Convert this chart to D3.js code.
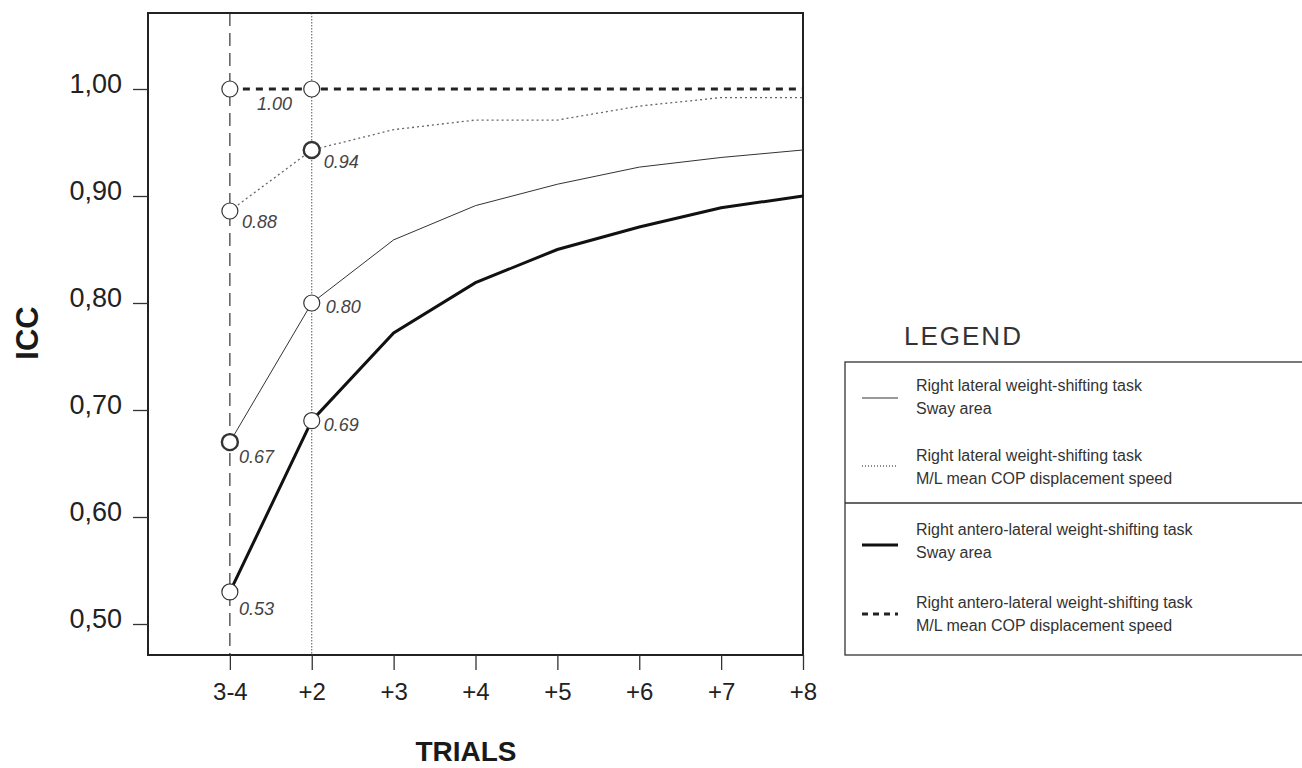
<!DOCTYPE html>
<html>
<head>
<meta charset="utf-8">
<script src="https://cdn.jsdelivr.net/npm/d3@7"></script>
<style>
  body { margin: 0; background: #fff; }
  svg { display: block; font-family: "Liberation Sans", Arial, sans-serif; }
</style>
</head>
<body>
<div id="chart"></div>
<script>
const trials = ["3-4", "+2", "+3", "+4", "+5", "+6", "+7", "+8"];
const yTicks = [0.5, 0.6, 0.7, 0.8, 0.9, 1.0];

const latSway  = [0.67, 0.80, 0.859, 0.891, 0.911, 0.927, 0.936, 0.943];
const latSpeed = [0.886, 0.943, 0.962, 0.971, 0.971, 0.984, 0.992, 0.992];
const antSway  = [0.53, 0.69, 0.772, 0.819, 0.850, 0.871, 0.889, 0.900];
const antSpeed = [1.00, 1.00, 1.00, 1.00, 1.00, 1.00, 1.00, 1.00];

// labelled points: series, trial index, text, label offset, bold ring
const marks = [
  { s: "antSpeed", i: 0, t: "1.00", dx: 27, dy: 21 },
  { s: "antSpeed", i: 1, t: null },
  { s: "latSpeed", i: 0, t: "0.88", dx: 12, dy: 17 },
  { s: "latSpeed", i: 1, t: "0.94", dx: 12, dy: 18, bold: true },
  { s: "latSway",  i: 0, t: "0.67", dx: 9,  dy: 21, bold: true },
  { s: "latSway",  i: 1, t: "0.80", dx: 14, dy: 10 },
  { s: "antSway",  i: 0, t: "0.53", dx: 9,  dy: 23 },
  { s: "antSway",  i: 1, t: "0.69", dx: 12, dy: 10 }
];

const seriesData = { latSway, latSpeed, antSway, antSpeed };

const series = [
  { key: "latSway",  name: ["Right lateral weight-shifting task", "Sway area"],
    stroke: "#333", width: 1, dash: null },
  { key: "latSpeed", name: ["Right lateral weight-shifting task", "M/L mean COP displacement speed"],
    stroke: "#666", width: 1.3, dash: "2,3" },
  { key: "antSway",  name: ["Right antero-lateral weight-shifting task", "Sway area"],
    stroke: "#111", width: 3, dash: null },
  { key: "antSpeed", name: ["Right antero-lateral weight-shifting task", "M/L mean COP displacement speed"],
    stroke: "#222", width: 3, dash: "7,6" }
];

const W = 1302, H = 768;
const frame = { left: 148, right: 803, top: 13, bottom: 655 };

const svg = d3.select("#chart").append("svg").attr("width", W).attr("height", H);

const x = d3.scaleLinear().domain([-1, 7]).range([frame.left, frame.right]);
const y = d3.scaleLinear().domain([0.5, 1.0]).range([624, 89]);

// reference verticals
svg.append("line")
  .attr("x1", x(0)).attr("x2", x(0)).attr("y1", frame.top).attr("y2", frame.bottom)
  .attr("stroke", "#333").attr("stroke-width", 1.2).attr("stroke-dasharray", "13,7");
svg.append("line")
  .attr("x1", x(1)).attr("x2", x(1)).attr("y1", frame.top).attr("y2", frame.bottom)
  .attr("stroke", "#555").attr("stroke-width", 1).attr("stroke-dasharray", "1.5,1.5");

// frame
svg.append("rect")
  .attr("x", frame.left).attr("y", frame.top)
  .attr("width", frame.right - frame.left).attr("height", frame.bottom - frame.top)
  .attr("fill", "none").attr("stroke", "#222").attr("stroke-width", 2);

// axes
const yAxis = svg.append("g").attr("transform", `translate(${frame.left},0)`)
  .call(d3.axisLeft(y).tickValues(yTicks).tickSize(15).tickPadding(11)
    .tickFormat(d => d3.format(".2f")(d).replace(".", ",")));
const xAxis = svg.append("g").attr("transform", `translate(0,${frame.bottom})`)
  .call(d3.axisBottom(x).tickValues(d3.range(trials.length)).tickSize(15).tickPadding(13)
    .tickFormat(i => trials[i]));
[yAxis, xAxis].forEach(g => {
  g.select(".domain").remove();
  g.selectAll("line").attr("stroke", "#333").attr("stroke-width", 1.3);
  g.selectAll("text").attr("fill", "#222")
    .style("font-family", "'Liberation Sans', Arial, sans-serif");
});
yAxis.selectAll("text").style("font-size", "27px").attr("dy", "3");
xAxis.selectAll("text").style("font-size", "24px");

// axis titles
svg.append("text").text("ICC")
  .attr("transform", `translate(38,333) rotate(-90)`)
  .attr("text-anchor", "middle")
  .style("font-size", "31px").style("font-weight", "700").attr("fill", "#1a1a1a");
svg.append("text").text("TRIALS")
  .attr("x", 466).attr("y", 761).attr("text-anchor", "middle")
  .style("font-size", "28px").style("font-weight", "700").attr("fill", "#1a1a1a");

// series lines
const line = d3.line().x((d, i) => x(i)).y(d => y(d));
series.forEach(s => {
  svg.append("path").datum(seriesData[s.key])
    .attr("d", line).attr("fill", "none")
    .attr("stroke", s.stroke).attr("stroke-width", s.width)
    .attr("stroke-dasharray", s.dash);
});

// circles and value labels
marks.forEach(m => {
  const cx = x(m.i), cy = y(seriesData[m.s][m.i]);
  svg.append("circle").attr("cx", cx).attr("cy", cy).attr("r", 8)
    .attr("fill", "#fff").attr("stroke", "#333").attr("stroke-width", m.bold ? 2.4 : 1.2);
  if (m.t) {
    svg.append("text").text(m.t)
      .attr("x", cx + m.dx).attr("y", cy + m.dy)
      .style("font-size", "18px").style("font-style", "italic").attr("fill", "#444");
  }
});

// legend
svg.append("text").text("LEGEND")
  .attr("x", 904).attr("y", 345)
  .style("font-size", "26px").style("letter-spacing", "2px").attr("fill", "#333");
const lg = svg.append("g");
lg.append("rect").attr("x", 845).attr("y", 362).attr("width", 470).attr("height", 293)
  .attr("fill", "none").attr("stroke", "#333").attr("stroke-width", 1.3);
lg.append("line").attr("x1", 845).attr("x2", 1302).attr("y1", 503).attr("y2", 503)
  .attr("stroke", "#333").attr("stroke-width", 1.3);

const rows = [
  { sy: 398, ty: 391 },
  { sy: 466, ty: 461 },
  { sy: 545, ty: 535 },
  { sy: 614, ty: 608 }
];
series.forEach((s, k) => {
  const r = rows[k];
  lg.append("line").attr("x1", 862).attr("x2", 898).attr("y1", r.sy).attr("y2", r.sy)
    .attr("stroke", s.stroke).attr("stroke-width", s.width)
    .attr("stroke-dasharray", s.dash === "7,6" ? "6,5" : (s.dash ? "1,2" : null));
  s.name.forEach((t, j) => {
    lg.append("text").text(t)
      .attr("x", 916).attr("y", r.ty + j * 23)
      .style("font-size", "16px").attr("fill", "#333");
  });
});
</script>
</body>
</html>
